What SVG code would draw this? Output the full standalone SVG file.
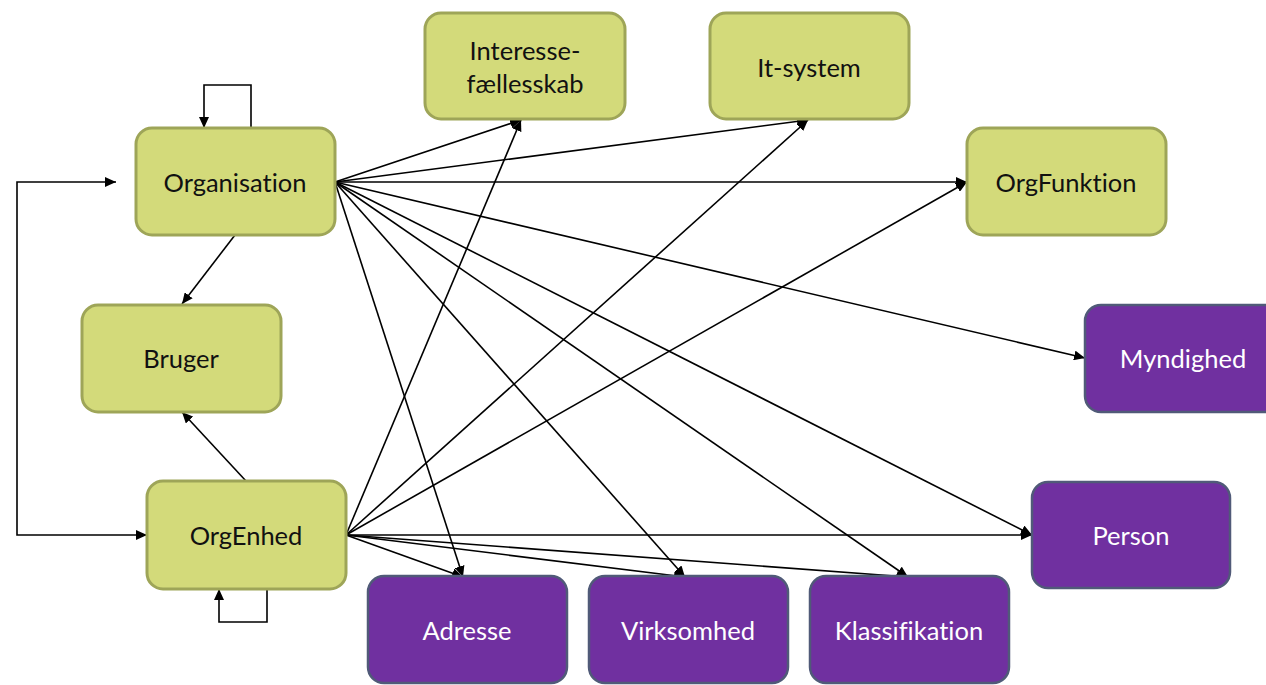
<svg xmlns="http://www.w3.org/2000/svg" width="1266" height="685" viewBox="0 0 1266 685">
<style>
.g rect{fill:#D3DA7A;stroke:#9EA558;stroke-width:3}
.p rect{fill:#7030A0;stroke:#505A78;stroke-width:2.5}
.g text,.p text{font-family:Lato,"Open Sans","Liberation Sans",sans-serif;font-size:25.5px;text-anchor:middle;dominant-baseline:central;font-variant-ligatures:none}
.g text{fill:#111}
.p text{fill:#fff}
#edges path,#edges line{stroke:#000;stroke-width:1.6;fill:none;marker-end:url(#ah)}
</style>
<defs>
<marker id="ah" markerUnits="userSpaceOnUse" markerWidth="12" markerHeight="10" refX="11" refY="5" orient="auto-start-reverse">
<path d="M0,0 L11,5 L0,10 z" fill="#000"/>
</marker>
</defs>
<rect width="1266" height="685" fill="#fff"/>
<g id="edges">
<path d="M251,128 V85 H204 V128"/>
<path d="M116,182 H17 V535 H147" style="marker-start:url(#ah)"/>
<path d="M267,589 V622 H219 V589"/>
<line x1="235" y1="235" x2="182" y2="304"/>
<line x1="246" y1="481" x2="182" y2="412"/>
<line x1="335" y1="182" x2="521" y2="120"/>
<line x1="335" y1="182" x2="808" y2="120"/>
<line x1="335" y1="182" x2="967" y2="182"/>
<line x1="335" y1="182" x2="1085" y2="358"/>
<line x1="335" y1="182" x2="1032" y2="535"/>
<line x1="335" y1="182" x2="463" y2="577"/>
<line x1="335" y1="182" x2="685" y2="577"/>
<line x1="335" y1="182" x2="908" y2="577"/>
<line x1="346" y1="535" x2="521" y2="120"/>
<line x1="346" y1="535" x2="808" y2="120"/>
<line x1="346" y1="535" x2="967" y2="182"/>
<line x1="346" y1="535" x2="1032" y2="535"/>
<line x1="346" y1="535" x2="463" y2="577"/>
<line x1="346" y1="535" x2="685" y2="577"/>
<line x1="346" y1="535" x2="908" y2="577"/>
</g>
<g id="organisation" class="g"><rect x="136" y="128" width="199" height="107" rx="16"/><text x="235" y="182">Organisation</text></g>
<g id="bruger" class="g"><rect x="82" y="305" width="199" height="107" rx="16"/><text x="181" y="358">Bruger</text></g>
<g id="orgenhed" class="g"><rect x="147" y="481" width="199" height="108" rx="16"/><text x="246" y="535">OrgEnhed</text></g>
<g id="interessefaellesskab" class="g"><rect x="425" y="13" width="200" height="106" rx="16"/><text x="525" y="50">Interesse-</text><text x="525" y="83">fællesskab</text></g>
<g id="itsystem" class="g"><rect x="710" y="13" width="199" height="106" rx="16"/><text x="809" y="67">It-system</text></g>
<g id="orgfunktion" class="g"><rect x="967" y="128" width="199" height="107" rx="16"/><text x="1066" y="182">OrgFunktion</text></g>
<g id="myndighed" class="p"><rect x="1085" y="305" width="199" height="107" rx="16"/><text x="1183" y="358">Myndighed</text></g>
<g id="person" class="p"><rect x="1032" y="482" width="198" height="106" rx="16"/><text x="1131" y="535">Person</text></g>
<g id="adresse" class="p"><rect x="368" y="576" width="199" height="107" rx="16"/><text x="467" y="630">Adresse</text></g>
<g id="virksomhed" class="p"><rect x="589" y="576" width="199" height="107" rx="16"/><text x="688" y="630">Virksomhed</text></g>
<g id="klassifikation" class="p"><rect x="810" y="576" width="199" height="107" rx="16"/><text x="909" y="630">Klassifikation</text></g>
</svg>
